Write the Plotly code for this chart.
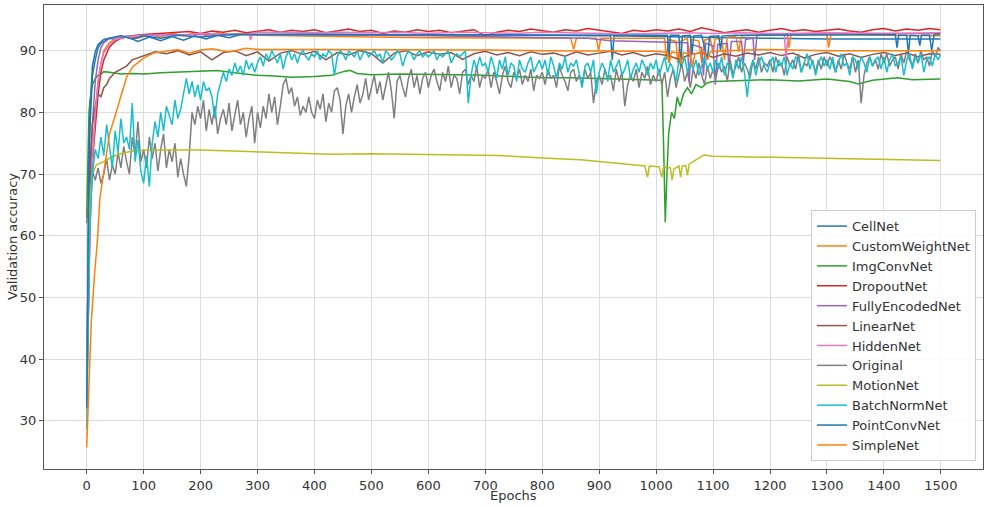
import plotly.graph_objects as go

# ---------------- data ----------------
GRID5 = list(range(0, 1500, 5)) + [1499]

ORIGINAL_ACC = [
    62, 68, 70.5, 69, 71, 68.5, 70, 72.5, 69, 71.5, 70, 73.5, 71, 74.5, 72, 70, 76, 73, 78.5, 72,
    74, 71, 76, 72.5, 75, 70.5, 74, 76.5, 71, 74, 72, 75, 69.5, 72.5, 70, 68, 73, 80, 78, 81,
    79, 82, 77, 80.5, 78, 81, 76.5, 79, 80.5, 78, 81.5, 77, 79.5, 82, 78, 80, 76, 79, 81, 75,
    80, 77.5, 81, 79, 83, 80, 82.5, 78, 81, 84.5, 85.5, 83, 84, 81, 82.5, 79.5, 81, 80, 82.5, 80,
    79, 82, 80.5, 83, 78.5, 81.5, 80, 83.5, 84, 82, 76.5, 81, 83, 80, 82.5, 84.5, 81.5, 83, 85.5, 82,
    84, 86, 83, 85, 82, 84.5, 86.5, 83.5, 79, 85, 86, 84, 82.5, 85.5, 87, 84, 86, 83, 85.5, 86.5,
    84, 86, 87, 85, 83.5, 86.5, 85, 87.5, 84, 86, 85.5, 83, 86.5, 87, 84.5, 86, 85, 87.5, 84, 86,
    85.5, 87, 84, 86.5, 85, 83, 86, 87.5, 85, 84, 86.5, 85.5, 87, 84.5, 86, 85, 87, 83.5, 86, 85.5,
    86.5, 84.5, 87, 85.5, 86, 84, 87.5, 86, 85, 83.5, 86.5, 87, 85, 86, 84.5, 87, 85.5, 86.5, 81.5, 85,
    86, 84.5, 87, 85.5, 86, 83.5, 87, 85, 86.5, 81, 84.5, 86, 85, 87, 84, 86.5, 85.5, 87.5, 84.5, 86,
    85, 87, 84.5, 86.5, 82.5, 85.5, 87, 84, 86, 88, 85, 86.5, 84, 87, 85.5, 88, 86, 84.5, 87.5, 85.5,
    87, 85.5, 88, 86.5, 87.5, 85, 88.5, 86, 87.5, 89, 86.5, 88, 87, 85.5, 88.5, 87, 89, 86.5, 88, 87.5,
    88.5, 86.5, 89, 87.5, 88, 86, 89, 87.5, 88.5, 87, 89.5, 86.5, 88, 87.5, 89, 88, 86.5, 88.5, 87, 89,
    87.5, 89, 88, 86.5, 88.5, 87, 89.5, 88, 87, 89, 86.5, 88.5, 81.5, 86, 88, 89, 87.5, 88.5, 87, 89.5,
    88, 89.5, 87.5, 88.5, 89, 87, 89.5, 88, 90, 88.5, 87.5, 89.5, 88, 90, 88.5, 89, 87.5, 90, 89, 90.5,
    90,
]

BATCHNORM_ACC = [
    28.7, 60, 70, 74, 72.5, 76, 73, 78, 74.5, 71, 77, 73.5, 79, 75, 76, 74, 81.5, 72, 75.5, 70.5,
    68.5, 73, 68, 75, 78.5, 76, 80, 77, 81, 79.5, 78, 82, 79, 80.5, 83, 85.5, 83, 85, 82.5, 84.5,
    82, 85, 83.5, 84, 82.5, 79, 83, 85, 86.5, 85, 87, 86, 88, 86.5, 87.5, 86, 88.5, 87, 88, 86.5,
    88, 89, 87.5, 89.5, 88.5, 90, 89, 88, 89.5, 87, 89, 90, 88.5, 89.5, 88, 89.5, 90, 89, 88.5, 89.5,
    89, 90, 88.5, 89.5, 89, 90, 89.5, 86, 89, 90, 89.5, 88.5, 90, 89.5, 89, 90, 88.5, 89.5, 90, 89,
    89.5, 90, 89, 89.5, 88, 90, 89.5, 88.5, 89, 90, 89.5, 87.5, 89, 90, 89.5, 88.5, 89.5, 90, 89, 89.5,
    89, 89.5, 90, 88.5, 89.5, 89, 89.5, 90, 88, 89, 89.5, 89, 89.5, 90, 81.5, 86, 88.5, 87, 89, 87.5,
    88, 86.5, 89, 87.5, 85.5, 88.5, 87, 89, 86, 88, 87.5, 85, 88.5, 87, 86.5, 88, 89, 86.5, 87.5, 88.5,
    87, 88.5, 86, 89, 87.5, 85.5, 88, 87, 89, 86.5, 88, 87.5, 88.5, 86, 84, 87.5, 88, 86.5, 88.5, 83,
    86.5, 88, 87, 85, 88.5, 86.5, 87.5, 88.5, 86, 87, 88.5, 85.5, 87, 88, 86.5, 88.5, 87.5, 86, 88, 87,
    88.5, 86, 87.5, 89, 86.5, 88, 87, 85, 88.5, 87.5, 89, 86.5, 88, 87, 88.5, 86, 87.5, 89, 87, 88,
    86.5, 88.5, 87, 89, 86, 88, 87.5, 85.5, 88.5, 87, 89, 86.5, 82.5, 87, 88.5, 86, 88, 89, 87.5, 86.5,
    88, 89, 86.5, 88.5, 87.5, 89, 86, 88, 87, 89, 88.5, 86.5, 88, 89.5, 87, 88.5, 86, 88, 89, 87.5,
    88.5, 87, 89, 86.5, 88, 89.5, 87.5, 88, 86, 89, 88.5, 87, 89, 88, 86.5, 89, 87.5, 88.5, 89, 87,
    89, 86.5, 88.5, 89.5, 87.5, 88, 89, 86, 88.5, 89.5, 87, 89, 88, 89.5, 86.5, 88.5, 89, 87.5, 89.5, 88.5,
    89.3,
]

CELLNET_EP = [0, 2, 4, 6, 8, 10, 15, 20, 25, 30, 40, 50, 70, 90, 110, 130, 150, 170, 190, 210, 230, 250,
              270, 300, 400, 500, 600, 700, 800, 900, 920, 923, 926, 1000, 1100, 1200, 1300, 1400, 1499]
CELLNET_ACC = [33, 55, 70, 78, 83, 86, 88.5, 90.5, 91.2, 91.5, 92, 91.8, 92.3, 91.5, 92.2, 91.6, 92.3, 91.7,
               92.4, 91.9, 92.5, 92.1, 92.6, 92.6, 92.7, 92.6, 92.6, 92.5, 92.5, 92.4, 92.4, 88.5, 92.4,
               92.3, 92.1, 92.0, 91.9, 91.9, 91.9]

CUSTOM_EP = [0, 3, 6, 10, 15, 20, 25, 30, 40, 50, 70, 90, 110, 130, 150, 170, 190, 210, 230, 250, 270,
             300, 350, 400, 500, 600, 700, 800, 850, 855, 860, 895, 899, 903, 950, 1000, 1015, 1018,
             1022, 1035, 1038, 1042, 1055, 1058, 1062, 1075, 1080, 1085, 1095, 1100, 1104, 1115, 1120,
             1125, 1140, 1145, 1150, 1178, 1200, 1230, 1233, 1237, 1300, 1303, 1307, 1400, 1499]
CUSTOM_ACC = [33.5, 50, 62, 72, 80, 85, 88, 90, 91.3, 91.8, 92.3, 92, 92.6, 92.2, 92.8, 92.4, 92.9, 92.5,
              92.9, 92.6, 92.8, 92.5, 92.4, 92.3, 92.2, 92.1, 92.1, 92.0, 92.0, 90.2, 92.0, 92.0, 90,
              92.0, 92.0, 92.0, 92.0, 88.5, 91.8, 91.5, 88, 91.5, 92, 89, 91.8, 91.6, 88, 91.7, 92,
              89.5, 92, 91.8, 88.5, 92.2, 92.3, 89.8, 92.4, 92.5, 92.6, 92.6, 90.5, 92.6, 92.6, 90.5,
              92.6, 92.5, 92.4]

IMGCONV_EP = [0, 2, 4, 6, 8, 10, 15, 20, 25, 30, 40, 60, 80, 100, 130, 160, 200, 230, 260, 300, 330,
              360, 400, 430, 450, 462, 475, 500, 550, 600, 650, 700, 750, 800, 850, 900, 950, 990,
              1010, 1013, 1016, 1019, 1022, 1027, 1032, 1037, 1042, 1048, 1055, 1062, 1070, 1080,
              1090, 1101, 1150, 1200, 1250, 1300, 1340, 1355, 1380, 1424, 1450, 1499]
IMGCONV_ACC = [62.9, 75, 80, 82, 83.5, 84.5, 85.5, 86, 86.2, 86.6, 86.5, 86.2, 86.3, 86.2, 86.4, 86.5,
               86.7, 86.8, 86.4, 86.0, 85.9, 85.7, 85.8, 86.0, 86.6, 86.8, 86.3, 86.1, 86.2, 86.2,
               86.1, 86.0, 85.8, 85.6, 85.6, 85.5, 85.3, 85.2, 85.2, 75, 62.2, 70, 76.6, 80, 79,
               82.5, 81, 83, 84, 83, 84.5, 84, 84.8, 85, 85.2, 85.3, 85.1, 85.4, 85.0, 84.6, 85.2,
               85.6, 85.3, 85.4]

DROPOUT_EP = [0, 3, 6, 10, 15, 20, 25, 30, 40, 50, 60, 80, 100, 140] + list(range(160, 1500, 20)) + [1499]
DROPOUT_ACC = [33, 52, 64, 72, 78, 83, 86.5, 88.5, 90.6, 91.5, 92, 92.4, 92.6, 92.8,
               92.9, 93.1, 92.8, 93.2, 93.0, 93.3, 92.9, 93.2, 93.4, 93.0, 93.3, 93.1, 93.4, 92.9,
               93.2, 93.5, 93.1, 93.3, 92.8, 93.2, 93.0, 93.4, 93.1, 93.3, 92.9, 93.2, 93.4, 92.4,
               93.0, 93.3, 93.1, 93.5, 93.2, 93.0, 93.4, 93.2, 93.6, 93.3, 93.0, 92.8, 93.3, 93.1,
               93.4, 93.2, 93.5, 93.1, 93.7, 93.3, 92.9, 93.2, 93.4, 93.0, 93.3, 93.6, 93.2, 93.4,
               93.1, 93.3, 93.5, 93.2, 93.0, 93.4, 93.6, 93.2, 93.5, 93.3, 93.6, 93.4]

FULLYENC_EP = [0, 3, 6, 10, 15, 20, 25, 30, 40, 60, 100, 200, 300, 400, 500, 600, 700, 800, 880, 920,
               1000, 1040, 1055, 1058, 1062, 1080, 1083, 1087, 1100, 1104, 1108, 1125, 1128, 1132,
               1150, 1153, 1157, 1170, 1173, 1177, 1200, 1300, 1400, 1499]
FULLYENC_ACC = [33, 52, 68, 78, 85, 88.5, 90.5, 91.3, 92, 92.3, 92.5, 92.6, 92.6, 92.6, 92.5, 92.4, 92.3,
                92.2, 92.0, 91.6, 91.4, 91.3, 91.3, 85, 91, 90.5, 86, 91.2, 90.8, 84.5, 91, 91.2, 87,
                91.5, 91.5, 88, 91.8, 92, 88.5, 92.4, 92.7, 92.8, 92.8, 92.8]

LINEAR_EP = [0, 3, 6, 10, 15, 20, 25, 30, 35, 40, 50, 60, 70, 80, 90, 100, 110, 120] + list(range(140, 1500, 20)) + [1499]
LINEAR_ACC = [33.6, 60, 72, 78, 81, 83, 82.5, 84, 84.5, 85.5, 86.5, 87, 87.5, 88.5, 88.8, 89.2, 89.5, 89.8,
              89.5, 90, 89.3, 89.8, 88.5, 89.7, 90, 89.2, 89.8, 88.3, 89.6, 90, 89.4, 89.9, 88.5, 89.7,
              89.3, 90, 89.5, 88, 89.6, 90, 89.2, 89.8, 89.4, 89.7, 88.6, 89.5, 89.9, 89.3, 89.7, 89.2,
              89.8, 89.4, 89.6, 89.1, 89.8, 89.3, 89.6, 89.9, 89.3, 89.7, 89.1, 89.5, 89.2, 88.6, 89.4,
              89.7, 88.9, 89.5, 89.1, 89.6, 89.3, 89.7, 89.2, 89.6, 88.8, 89.4, 89.7, 89.1, 89.5, 88.9,
              89.4, 89.7, 89.2, 89.6, 89.0, 89.5, 89.4]

HIDDEN_EP = [0, 3, 6, 10, 15, 20, 25, 30, 40, 50, 70, 100, 150, 200, 250, 285, 288, 291, 300, 350, 400,
             450, 500, 550, 600, 650, 700, 750, 800, 850, 900, 950, 1000, 1050, 1100, 1150, 1200, 1225,
             1228, 1232, 1300, 1400, 1499]
HIDDEN_ACC = [35, 50, 62, 72, 80, 85, 88, 89.6, 91, 91.8, 92.2, 92.5, 92.4, 92.8, 92.6, 92.7, 91.7, 92.8,
              93.0, 93.0, 92.9, 93.0, 92.9, 93.0, 92.8, 93.0, 92.9, 92.8, 93.0, 92.9, 92.8, 92.7, 92.8,
              92.9, 92.8, 92.9, 92.8, 92.8, 88.5, 92.8, 92.9, 92.8, 92.9]

MOTION_EP = [0, 3, 6, 10, 17, 30, 45, 63, 80, 105, 200, 300, 427, 500, 600, 726, 800, 867, 950, 980, 985,
             988, 1005, 1010, 1013, 1025, 1028, 1031, 1040, 1043, 1046, 1052, 1055, 1058, 1065, 1084,
             1100, 1150, 1248, 1350, 1499]
MOTION_ACC = [36, 58, 66, 70, 71.5, 72, 72.8, 73.4, 73.7, 73.9, 73.9, 73.6, 73.2, 73.3, 73.2, 73.0, 72.6,
              72.3, 71.6, 71.3, 69.5, 71.3, 71.2, 69.5, 71.2, 71, 69, 70.8, 71.3, 69.5, 71.3, 71.4,
              69.8, 71.6, 72, 73.1, 72.9, 72.8, 72.6, 72.4, 72.2]

POINTCONV_EP = [0, 2, 4, 6, 8, 10, 15, 20, 30, 40, 60, 80, 100, 130, 160, 200, 250, 300, 1000, 1020,
                1022, 1025, 1040, 1043, 1046, 1060, 1063, 1066, 1080, 1090, 1094, 1110, 1113, 1116,
                1140, 1200, 1300, 1400, 1420, 1423, 1426, 1440, 1443, 1446, 1460, 1463, 1466, 1480,
                1484, 1488, 1499]
POINTCONV_ACC = [32, 60, 74, 81, 85, 87.5, 89.8, 91, 91.8, 92, 92.4, 91.9, 92.4, 92.0, 92.5, 92.2, 92.6,
                 92.6, 92.6, 92.5, 88, 92.5, 92.5, 87.5, 92.4, 92.5, 89.5, 92.4, 92.5, 88.5, 92.3, 92.4,
                 90, 92.4, 92.5, 92.5, 92.6, 92.6, 92.6, 90.5, 92.5, 92.5, 89.5, 92.5, 92.4, 90.8,
                 92.5, 92.5, 90, 92.6, 92.7]

SIMPLE_EP = [0, 5, 8, 14, 19, 23, 30, 40, 50, 58, 70, 81, 100, 117, 140, 160, 180, 200, 220, 250, 280,
             300, 400, 500, 600, 700, 800, 900, 1000, 1020, 1023, 1027, 1040, 1044, 1048, 1060, 1064,
             1068, 1085, 1090, 1095, 1120, 1150, 1200, 1300, 1400, 1499]
SIMPLE_ACC = [25.7, 38, 46, 54, 59.5, 66, 70.5, 76.5, 79.5, 82, 85.7, 87.4, 88.8, 89.6, 89.9, 90.2, 89.6,
              90.1, 90.3, 89.8, 90.4, 90.2, 90.2, 90.2, 90.1, 90.1, 90.0, 90.0, 89.9, 89.7, 88, 89.8,
              89.6, 87.8, 89.7, 89.4, 87.5, 89.5, 89.7, 88.5, 89.8, 90, 90.1, 90.2, 90.0, 90.0, 90.0]

assert len(ORIGINAL_ACC) == len(GRID5)
assert len(BATCHNORM_ACC) == len(GRID5)

SERIES = [
    ("CellNet", CELLNET_EP, CELLNET_ACC, "#1f77b4"),
    ("CustomWeightNet", CUSTOM_EP, CUSTOM_ACC, "#ff7f0e"),
    ("ImgConvNet", IMGCONV_EP, IMGCONV_ACC, "#2ca02c"),
    ("DropoutNet", DROPOUT_EP, DROPOUT_ACC, "#d62728"),
    ("FullyEncodedNet", FULLYENC_EP, FULLYENC_ACC, "#9467bd"),
    ("LinearNet", LINEAR_EP, LINEAR_ACC, "#8c564b"),
    ("HiddenNet", HIDDEN_EP, HIDDEN_ACC, "#e377c2"),
    ("Original", GRID5, ORIGINAL_ACC, "#7f7f7f"),
    ("MotionNet", MOTION_EP, MOTION_ACC, "#bcbd22"),
    ("BatchNormNet", GRID5, BATCHNORM_ACC, "#17becf"),
    ("PointConvNet", POINTCONV_EP, POINTCONV_ACC, "#1f77b4"),
    ("SimpleNet", SIMPLE_EP, SIMPLE_ACC, "#ff7f0e"),
]

X_TICKS = list(range(0, 1501, 100))
Y_TICKS = [30, 40, 50, 60, 70, 80, 90]

# ---------------- figure ----------------
fig = go.Figure()
for name, ep, acc, col in SERIES:
    assert len(ep) == len(acc), name
    fig.add_trace(go.Scatter(x=ep, y=acc, mode="lines", name=name,
                             line=dict(color=col, width=1.5)))

FONT = "DejaVu Sans"
TXT = "#333333"
axis_common = dict(showline=True, mirror=True, linecolor="#555555", linewidth=1,
                   showgrid=True, gridcolor="#dcdcdc", gridwidth=1, zeroline=False,
                   ticks="outside", ticklen=4, tickcolor="#555555", automargin=False,
                   tickfont=dict(family=FONT, size=13, color=TXT))

fig.update_layout(
    width=984, height=507,
    margin=dict(l=44, r=1, t=5, b=38),
    paper_bgcolor="white", plot_bgcolor="white",
    font=dict(family=FONT, size=13, color=TXT),
    xaxis=dict(range=[-75, 1574], tickmode="array", tickvals=X_TICKS, **axis_common),
    yaxis=dict(range=[22.2, 97.4], tickmode="array", tickvals=Y_TICKS, **axis_common),
    legend=dict(x=0.9925, y=0.017, xanchor="right", yanchor="bottom",
                bgcolor="rgba(255,255,255,0.85)", bordercolor="#cccccc", borderwidth=1,
                font=dict(family=FONT, size=13, color=TXT), tracegroupgap=0),
    showlegend=True,
    annotations=[
        dict(text="Epochs", xref="paper", yref="paper", x=0.5, y=0, xanchor="center",
             yanchor="middle", yshift=-26, showarrow=False, font=dict(family=FONT, size=13, color=TXT)),
        dict(text="Validation accuracy", xref="paper", yref="paper", x=0, y=0.5, xanchor="center",
             yanchor="middle", xshift=-32, textangle=-90, showarrow=False,
             font=dict(family=FONT, size=13, color=TXT)),
    ],
)

fig.write_html("out.html", config={"displayModeBar": False},
               post_script="document.body.style.margin='0px';document.body.style.overflow='hidden';")
